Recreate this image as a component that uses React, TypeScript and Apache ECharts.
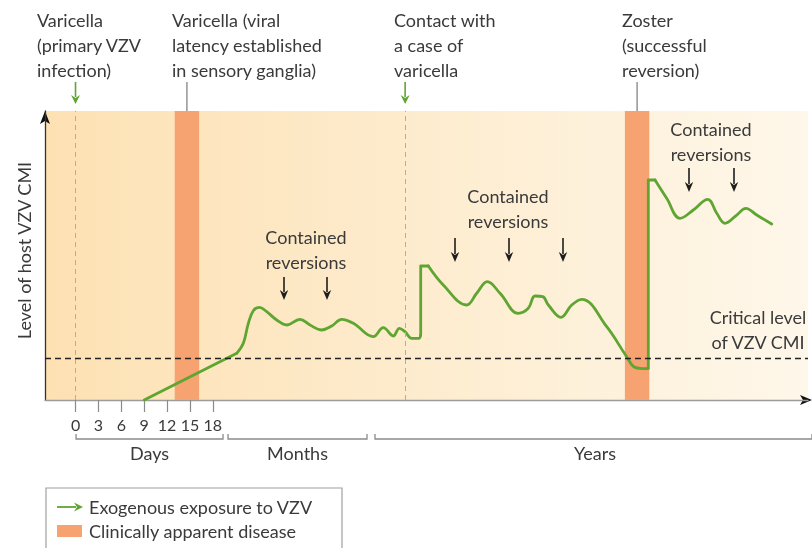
import React, { useEffect, useRef } from 'react';
import * as echarts from 'echarts';

// ---- data (time in day-equivalent units of the drawing, level in arbitrary CMI units) ----
const dayTicks = [0, 3, 6, 9, 12, 15, 18];
const exposureTimes = [0, 43.2];
const diseaseSpans: number[][] = [[13.0, 16.2], [72.0, 75.2]];
const criticalLevel = 14.5;

const primaryRise = [[9, 0], [21.13, 16.16]];
const latencyPhase = [
  [21.13, 16.16], [21.99, 19.62], [22.65, 26.54], [23.3, 30.9], [24.09, 32.08], [25.06, 30.55],
  [26.37, 27.68], [27.68, 25.95], [29.42, 27.92], [30.73, 25.95], [32.27, 24.22], [33.58, 25.61],
  [34.89, 27.92], [36.41, 26.54], [39.03, 21.9], [40.34, 25.02], [41.65, 22.15], [42.44, 24.81],
  [43.18, 23.63], [44.06, 21.35], [45.0, 21.35], [45.24, 22.49],
];
const boostJump = [[45.24, 22.49], [45.24, 46.37], [46.24, 46.37]];
const boostPhase = [
  [46.24, 46.37], [48.2, 39.79], [51.27, 32.87], [52.58, 36.92], [53.97, 40.93], [55.64, 36.92],
  [58.03, 30.0], [59.34, 31.73], [60.22, 35.99], [61.23, 35.74], [61.97, 32.87], [63.63, 28.62],
  [65.03, 32.87], [66.34, 34.84], [69.62, 25.36], [72.24, 14.98], [73.33, 11.31], [74.86, 10.83],
];
const zosterJump = [[74.86, 10.83], [75.07, 10.83], [75.07, 76.12], [75.95, 76.12]];
const zosterPhase = [
  [75.95, 76.12], [77.48, 69.79], [79.23, 62.87], [80.97, 65.74], [82.86, 69.45], [84.04, 64.6],
  [85.12, 61.14], [86.66, 64.01], [87.84, 66.33], [89.28, 64.01], [91.24, 60.9],
];
const timeScales = [
  { label: 'Days', from: 0.07, to: 19.33 },
  { label: 'Months', from: 19.99, to: 38.2 },
  { label: 'Years', from: 39.25, to: 96.6 },
];
const topNotes = [
  { text: 'Varicella\n(primary VZV\ninfection)', x: 37 },
  { text: 'Varicella (viral\nlatency established\nin sensory ganglia)', x: 172 },
  { text: 'Contact with\na case of\nvaricella', x: 394 },
  { text: 'Zoster\n(successful\nreversion)', x: 622 },
];
const reversionGroups = [
  { textX: 306, textY: 224, arrowsX: [284, 327], arrowTop: 277, arrowTip: 300 },
  { textX: 508, textY: 183, arrowsX: [455, 509, 563], arrowTop: 238, arrowTip: 262 },
  { textX: 711, textY: 116, arrowsX: [689, 734], arrowTop: 168, arrowTip: 192 },
];

const FONT = 'Lato, "Open Sans", sans-serif';
const TEXT = '#3a3a3a';
const GREEN = '#5ea532';
const ORANGE = '#f6a271';

function vArrow(x: number, top: number, tip: number, color: string, w = 1.6, hw = 4.5, hl = 9) {
  return {
    type: 'group',
    silent: true,
    children: [
      { type: 'line', shape: { x1: x, y1: top, x2: x, y2: tip - hl + 2 }, style: { stroke: color, lineWidth: w } },
      { type: 'polygon', shape: { points: [[x - hw, tip - hl], [x, tip - hl + 3], [x + hw, tip - hl], [x, tip]] }, style: { fill: color } },
    ],
  };
}

export default function App() {
  const ref = useRef<HTMLDivElement>(null);
  useEffect(() => {
    if (!ref.current) return;
    const chart = echarts.init(ref.current, undefined, { renderer: 'svg' });
    const curve = (name: string, data: number[][], smooth: number | boolean) => ({
      name,
      type: 'line',
      data,
      smooth,
      symbol: 'none',
      z: 3,
      lineStyle: { color: GREEN, width: 2.8, cap: 'round', join: 'round' },
      silent: true,
    });
    const option: any = {
      animation: false,
      grid: {
        left: 45,
        right: 4,
        top: 111,
        bottom: 148,
        show: true,
        borderWidth: 0,
        backgroundColor: new echarts.graphic.LinearGradient(0, 0, 1, 0, [
          { offset: 0, color: '#fde1b3' },
          { offset: 1, color: '#fef7ea' },
        ]),
      },
      xAxis: {
        type: 'value',
        min: -4,
        max: 96,
        axisLine: { show: true, onZero: false, lineStyle: { color: '#9c9c9c', width: 1.3 } },
        axisTick: { show: true, customValues: dayTicks, length: 12, lineStyle: { color: '#8a8a8a', width: 1.2 } },
        axisLabel: { customValues: dayTicks, margin: 16, fontSize: 16, color: TEXT, fontFamily: FONT },
        splitLine: { show: false },
      },
      yAxis: {
        type: 'value',
        min: 0,
        max: 100,
        axisLine: { show: true, onZero: false, lineStyle: { color: '#333', width: 1.3 } },
        axisTick: { show: false },
        axisLabel: { show: false },
        splitLine: { show: false },
      },
      series: [
        {
          name: 'disease',
          type: 'line',
          data: [],
          z: 1,
          silent: true,
          markArea: {
            silent: true,
            itemStyle: { color: ORANGE },
            data: diseaseSpans.map(([a, b]) => [{ xAxis: a }, { xAxis: b }]),
          },
        },
        {
          name: 'exposure',
          type: 'line',
          data: [],
          silent: true,
          markLine: {
            silent: true,
            symbol: 'none',
            label: { show: false },
            lineStyle: { color: '#96c866', type: [5, 4], width: 1 },
            data: exposureTimes.map((t) => ({ xAxis: t })),
          },
        },
        {
          name: 'critical',
          type: 'line',
          data: [],
          silent: true,
          markLine: {
            silent: true,
            symbol: 'none',
            label: { show: false },
            lineStyle: { color: '#222', type: [6, 4], width: 1.3 },
            data: [{ yAxis: criticalLevel }],
          },
        },
        curve('primaryRise', primaryRise, false),
        curve('latencyPhase', latencyPhase, 0.4),
        curve('boostJump', boostJump, false),
        curve('boostPhase', boostPhase, 0.4),
        curve('zosterJump', zosterJump, false),
        curve('zosterPhase', zosterPhase, 0.4),
      ],
    };
    chart.setOption(option);

    const px = (t: number) => chart.convertToPixel({ xAxisIndex: 0 }, t) as number;
    const py = (v: number) => chart.convertToPixel({ yAxisIndex: 0 }, v) as number;
    const gTop = py(100);
    const gBottom = py(0);

    const graphics: any[] = [];
    topNotes.forEach((n) => {
      graphics.push({
        type: 'text', x: n.x, y: 7.5, silent: true,
        style: { text: n.text, fill: TEXT, fontSize: 18, fontFamily: FONT, lineHeight: 25, textVerticalAlign: 'top' },
      });
    });
    exposureTimes.forEach((t) => graphics.push(vArrow(px(t), 82, 104, GREEN, 1.6, 4.5, 9)));
    diseaseSpans.forEach(([a, b]) => {
      const x = (px(a) + px(b)) / 2;
      graphics.push({ type: 'line', silent: true, shape: { x1: x, y1: 82, x2: x, y2: gTop }, style: { stroke: '#7a7a7a', lineWidth: 1.2 } });
    });
    reversionGroups.forEach((g) => {
      graphics.push({
        type: 'text', x: g.textX, y: g.textY, silent: true,
        style: { text: 'Contained\nreversions', fill: TEXT, fontSize: 18, fontFamily: FONT, lineHeight: 25, textAlign: 'center', textVerticalAlign: 'top' },
      });
      g.arrowsX.forEach((x) => graphics.push(vArrow(x, g.arrowTop, g.arrowTip, '#1e1e1e', 1.6, 4.2, 10)));
    });
    graphics.push({
      type: 'text', x: 758, y: 304.5, silent: true,
      style: { text: 'Critical level\nof VZV CMI', fill: TEXT, fontSize: 18, fontFamily: FONT, lineHeight: 25, textAlign: 'center', textVerticalAlign: 'top' },
    });
    const yx = px(-4);
    graphics.push({ type: 'polygon', silent: true, shape: { points: [[yx - 5, gTop + 13], [yx, gTop], [yx + 5, gTop + 13], [yx, gTop + 10]] }, style: { fill: '#111' } });
    graphics.push({ type: 'polygon', silent: true, shape: { points: [[800, gBottom - 5], [812, gBottom], [800, gBottom + 5], [803, gBottom]] }, style: { fill: '#111' } });
    graphics.push({
      type: 'text', x: 24, y: (gTop + gBottom) / 2 - 5, rotation: Math.PI / 2, silent: true,
      style: { text: 'Level of host VZV CMI', fill: TEXT, fontSize: 18, fontFamily: FONT, textAlign: 'center', textVerticalAlign: 'middle' },
    });
    timeScales.forEach((s) => {
      const x1 = px(s.from);
      const x2 = Math.min(px(s.to), 812);
      graphics.push({
        type: 'polyline', silent: true,
        shape: { points: [[x1, 434], [x1, 439], [x2, 439], [x2, 434]] },
        style: { stroke: '#8a8a8a', lineWidth: 1.3, fill: 'none' },
      });
      const cx = s.label === 'Years' ? 595 : (x1 + x2) / 2;
      graphics.push({
        type: 'text', x: cx, y: 453, silent: true,
        style: { text: s.label, fill: TEXT, fontSize: 18, fontFamily: FONT, textAlign: 'center', textVerticalAlign: 'middle' },
      });
    });
    graphics.push({ type: 'rect', silent: true, shape: { x: 46, y: 488, width: 296, height: 80 }, style: { fill: '#fff', stroke: '#a0a0a0', lineWidth: 1.2 } });
    graphics.push({ type: 'line', silent: true, shape: { x1: 57, y1: 507, x2: 76, y2: 507 }, style: { stroke: GREEN, lineWidth: 1.8 } });
    graphics.push({ type: 'polygon', silent: true, shape: { points: [[74, 502.5], [77, 507], [74, 511.5], [83, 507]] }, style: { fill: GREEN } });
    graphics.push({ type: 'text', x: 89, y: 507, silent: true, style: { text: 'Exogenous exposure to VZV', fill: TEXT, fontSize: 18, fontFamily: FONT, textVerticalAlign: 'middle' } });
    graphics.push({ type: 'rect', silent: true, shape: { x: 57, y: 525, width: 25, height: 12 }, style: { fill: ORANGE } });
    graphics.push({ type: 'text', x: 89, y: 531, silent: true, style: { text: 'Clinically apparent disease', fill: TEXT, fontSize: 18, fontFamily: FONT, textVerticalAlign: 'middle' } });

    chart.setOption({ graphic: { elements: graphics } });
    return () => chart.dispose();
  }, []);
  return <div ref={ref} style={{ position: 'fixed', left: 0, top: 0, width: 812, height: 548 }} />;
}
